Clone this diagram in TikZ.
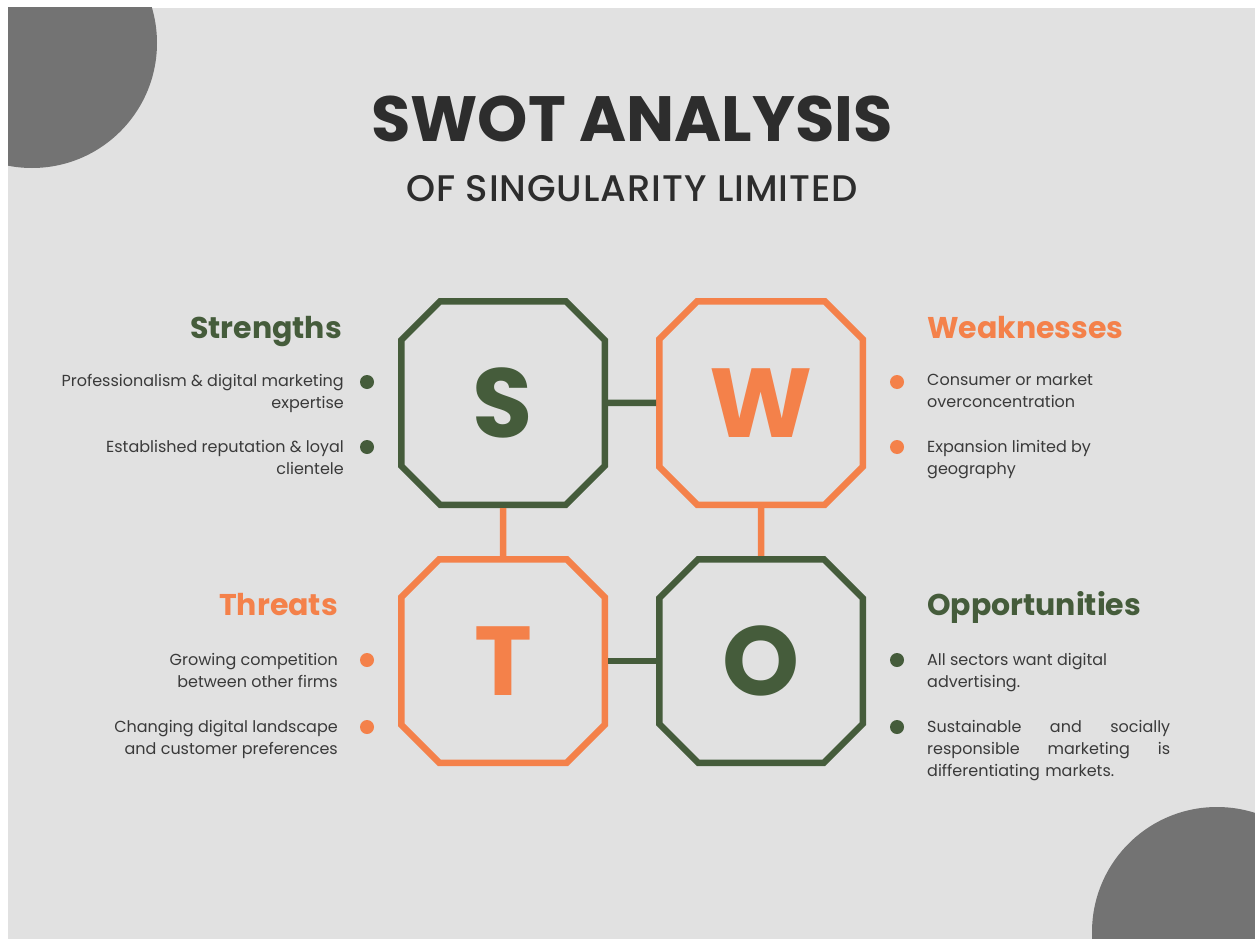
\documentclass[tikz,border=0pt]{standalone}
\usepackage{fontspec}
\setmainfont{Poppins}
\newfontfamily\subfont{Poppins Medium}[LetterSpace=2.5]
\usetikzlibrary{shapes.misc}

\definecolor{swotgreen}{HTML}{455C3B}
\definecolor{swotorange}{HTML}{F4814A}
\definecolor{bggray}{HTML}{E1E1E1}
\definecolor{discgray}{HTML}{737373}
\definecolor{titlegray}{HTML}{2D2D2D}
\definecolor{textgray}{HTML}{3A3A3A}

\begin{document}
\begin{tikzpicture}[x=1pt, y=-1pt, node distance=258pt,
  box/.style={chamfered rectangle, chamfered rectangle xsep=36pt, minimum width=203.5pt, minimum height=203.5pt, inner sep=0pt, outer sep=0pt, line width=6.5pt, font=\fontsize{98}{98}\selectfont\bfseries},
  link/.style={line width=6.5pt, shorten <=3.25pt, shorten >=3.25pt},
  heading/.style={font=\fontsize{30}{30}\selectfont\bfseries, inner sep=0pt},
  item/.style={font=\fontsize{16}{22}\selectfont, text=textgray, inner sep=0pt},
  dot/.style={circle, minimum size=14pt, inner sep=0pt}]

% page and corner discs
\useasboundingbox (0,0) rectangle (1255,939);
\fill[white] (0,0) rectangle (1255,939);
\fill[bggray] (8,8) rectangle (1255,939);
\begin{scope}
\clip (8,8) rectangle (1255,939);
\fill[discgray] (32,43) circle[radius=125];
\fill[discgray] (1217,932) circle[radius=125];
\end{scope}

% title
\node (title) at (632,142) [anchor=base, inner sep=0pt, text=titlegray, font=\fontsize{64}{64}\selectfont\bfseries] {SWOT ANALYSIS};
\node (subtitle) at (632,201) [anchor=base, inner sep=0pt, text=titlegray, font=\fontsize{37}{37}\selectfont\subfont] {OF SINGULARITY LIMITED};

% the four boxes
\node (S) at (503,403) [box, draw=swotgreen, text=swotgreen] {S};
\node (W) [box, draw=swotorange, text=swotorange, right of=S] {W};
\node (T) [box, draw=swotorange, text=swotorange, below of=S] {T};
\node (O) [box, draw=swotgreen, text=swotgreen, below of=W] {O};

\draw[link, swotgreen] (S) -- (W);
\draw[link, swotorange] (S) -- (T);
\draw[link, swotorange] (W) -- (O);
\draw[link, swotgreen] (T) -- (O);

% strengths (base = last line)
\node (strengths) at (342,338) [heading, anchor=base east, text=swotgreen] {Strengths};
\node (sdot1) at (367,382) [dot, fill=swotgreen] {};
\node (sdot2) at (367,447) [dot, fill=swotgreen] {};
\node (s1) at (344,408) [item, anchor=base east, align=right] {Professionalism \& digital marketing\\expertise};
\node (s2) at (344,474) [item, anchor=base east, align=right] {Established reputation \& loyal\\clientele};

% weaknesses
\node (weaknesses) at (927,338) [heading, anchor=base west, text=swotorange] {Weaknesses};
\node (wdot1) at (897,382) [dot, fill=swotorange] {};
\node (wdot2) at (897,447) [dot, fill=swotorange] {};
\node (w1) at (927,407) [item, anchor=base west, align=left] {Consumer or market\\overconcentration};
\node (w2) at (927,474) [item, anchor=base west, align=left] {Expansion limited by\\geography};

% threats
\node (threats) at (338,615) [heading, anchor=base east, text=swotorange] {Threats};
\node (tdot1) at (367,660) [dot, fill=swotorange] {};
\node (tdot2) at (367,727) [dot, fill=swotorange] {};
\node (t1) at (338,687) [item, anchor=base east, align=right] {Growing competition\\between other firms};
\node (t2) at (338,754) [item, anchor=base east, align=right] {Changing digital landscape\\and customer preferences};

% opportunities
\node (opportunities) at (927,615) [heading, anchor=base west, text=swotgreen] {Opportunities};
\node (odot1) at (897,660) [dot, fill=swotgreen] {};
\node (odot2) at (897,727) [dot, fill=swotgreen] {};
\node (o1) at (927,687) [item, anchor=base west, align=left] {All sectors want digital\\advertising.};
\node (o2) at (927,732) [item, anchor=base west, text width=243pt, align=left] {Sustainable\hfill and\hfill socially\\responsible\hfill marketing\hfill is\\differentiating markets.};

\end{tikzpicture}
\end{document}
